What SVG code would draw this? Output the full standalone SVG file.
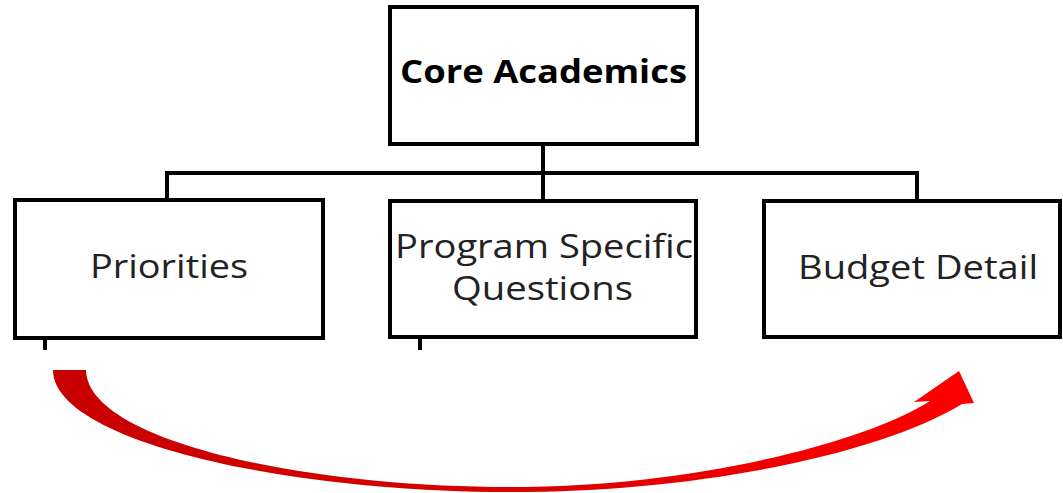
<svg xmlns="http://www.w3.org/2000/svg" width="1063" height="493" viewBox="0 0 1063 493">
  <style>
    .box { fill: #ffffff; stroke: #000000; stroke-width: 4; }
    .line { fill: none; stroke: #000000; stroke-width: 4; }
    .lbl { font-family: "Open Sans", "Liberation Sans", sans-serif; font-size: 32px; fill: #222222; }
    .bold { font-weight: bold; font-size: 33px; fill: #000000; }
  </style>
  <defs>
    <linearGradient id="redGrad" x1="0" y1="0" x2="1" y2="0">
      <stop offset="0" stop-color="#c80000"/>
      <stop offset="0.5" stop-color="#d80000"/>
      <stop offset="1" stop-color="#ff0000"/>
    </linearGradient>
  </defs>
  <rect width="1063" height="493" fill="#ffffff"/>

  <g id="connectors">
    <line class="line" x1="543" y1="144" x2="543" y2="201"/>
    <polyline class="line" points="167,200 167,173 917,173 917,200"/>
    <line class="line" x1="45" y1="338" x2="45" y2="350"/>
    <line class="line" x1="420" y1="337" x2="420" y2="350"/>
  </g>

  <g id="core-academics">
    <rect class="box" x="390" y="7" width="307" height="137"/>
    <text class="lbl bold" x="400" y="83" textLength="287" lengthAdjust="spacingAndGlyphs">Core Academics</text>
  </g>

  <g id="priorities">
    <rect class="box" x="15" y="200" width="308" height="138"/>
    <text class="lbl" x="90" y="278" textLength="158" lengthAdjust="spacingAndGlyphs">Priorities</text>
  </g>

  <g id="program-specific">
    <rect class="box" x="390" y="201" width="306" height="136"/>
    <text class="lbl" x="395" y="258" textLength="298" lengthAdjust="spacingAndGlyphs">Program Specific</text>
    <text class="lbl" x="452" y="300" textLength="181" lengthAdjust="spacingAndGlyphs">Questions</text>
  </g>

  <g id="budget-detail">
    <rect class="box" x="764" y="201" width="296" height="136"/>
    <text class="lbl" x="798" y="279" textLength="240" lengthAdjust="spacingAndGlyphs">Budget Detail</text>
  </g>

  <g id="cycle-arrow">
    <path fill="url(#redGrad)" d="M53,370 C53,440 280,492 510,492 C700,492 880,454 962,404 L974,403 L959,371 L914,402 L930,401 C870,440 700,487 510,487 C300,487 87,440 86,370 Z"/>
  </g>
</svg>
